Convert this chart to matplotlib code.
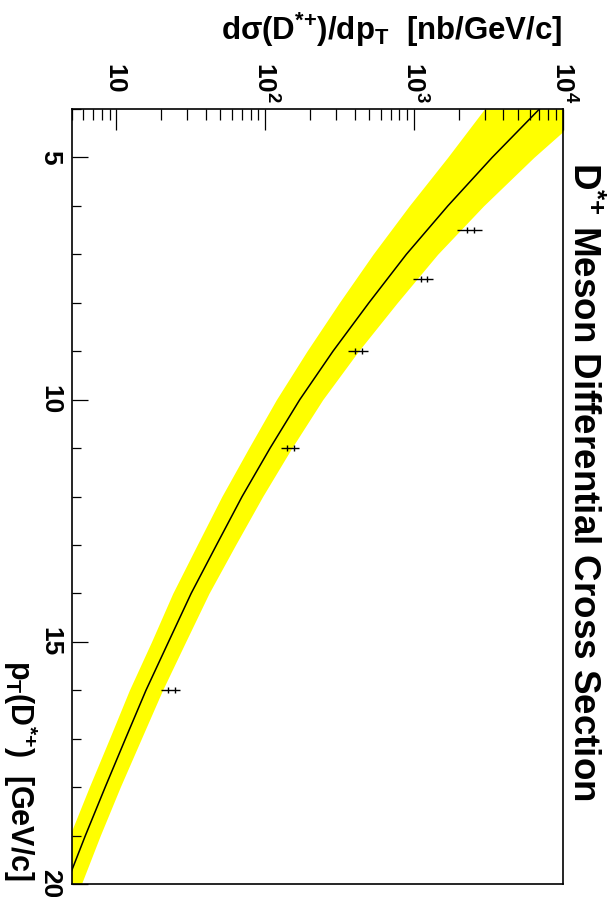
import matplotlib
matplotlib.use("Agg")
import matplotlib.pyplot as plt
from matplotlib.ticker import FixedLocator, LogLocator, MultipleLocator, NullFormatter
import numpy as np

plt.rcParams['font.family'] = ['Liberation Sans', 'DejaVu Sans']
plt.rcParams['font.weight'] = 'bold'
plt.rcParams['mathtext.fontset'] = 'custom'
plt.rcParams['mathtext.rm'] = 'Liberation Sans:bold'
plt.rcParams['mathtext.it'] = 'Liberation Sans:bold'
plt.rcParams['mathtext.bf'] = 'Liberation Sans:bold'
plt.rcParams['mathtext.sf'] = 'Liberation Sans:bold'
plt.rcParams['mathtext.default'] = 'rm'

# Theory band (pT in GeV/c, cross section in nb/GeV/c)
pt_theory = [4, 5, 6, 7, 8, 9, 10, 11, 12, 13, 14, 15, 16, 17, 18, 19, 20]
theory_central = [7000, 3365, 1694, 891, 499, 286, 171, 108, 70.0, 47.1, 31.8,
                  22.4, 15.8, 11.5, 8.4, 6.18, 4.61]
theory_low = [2985, 1687, 931, 531, 315, 191, 119, 77.6, 51.1, 34.9, 23.9,
              17.2, 12.2, 8.97, 6.56, 4.85, 3.63]
theory_high = [14960, 6412, 2944, 1445, 773, 424, 244, 151, 96.2, 63.2, 41.9,
               29.2, 20.4, 14.7, 10.6, 7.78, 5.81]

# Measured points
pt_data = [6.5, 7.5, 9.0, 11.0, 16.0]
xsec_data = [2410, 1170, 426, 149, 23.4]
rel_err_total = [0.19, 0.15, 0.15, 0.14, 0.15]
rel_err_stat = [0.05, 0.05, 0.05, 0.055, 0.05]

x_major = [10, 100, 1000, 10000]
x_major_labels = [r'$\mathbf{10}$', r'$\mathbf{10^{2}}$', r'$\mathbf{10^{3}}$', r'$\mathbf{10^{4}}$']
y_major = [5, 10, 15, 20]
y_major_labels = ['5', '10', '15', '20']

W, H = 611, 897
fig = plt.figure(figsize=(W / 100, H / 100), dpi=100)
L, R, T, B = 71.7, 562.5, 109, 884
ax = fig.add_axes([L / W, 1 - B / H, (R - L) / W, (B - T) / H])

ax.set_xscale('log')
ax.set_xlim(5, 1e4)
ax.set_ylim(20, 4)

ax.fill_betweenx(pt_theory, theory_low, theory_high, color='#ffff00', lw=0, zorder=1)
ax.plot(theory_central, pt_theory, color='black', lw=1.1, zorder=2)

xd = np.array(xsec_data)
ax.errorbar(xd, pt_data, xerr=xd * np.array(rel_err_total), fmt='none',
            ecolor='black', elinewidth=1.0, capsize=0, zorder=3)
ax.errorbar(xd, pt_data, xerr=xd * np.array(rel_err_stat), fmt='none',
            ecolor='black', elinewidth=0, capsize=2.2, capthick=1.0, zorder=3)

# Axes styling
for s in ax.spines.values():
    s.set_linewidth(1.2)
    s.set_color('black')

ax.xaxis.set_major_locator(FixedLocator(x_major))
ax.xaxis.set_minor_locator(LogLocator(base=10, subs=np.arange(2, 10)))
ax.xaxis.set_minor_formatter(NullFormatter())
ax.set_xticklabels(x_major_labels)
ax.xaxis.tick_top()
ax.tick_params(axis='x', which='major', direction='in', length=15, width=0.9,
               top=True, bottom=False, labeltop=True, labelbottom=False,
               labelsize=19, pad=34, labelrotation=-90)
ax.tick_params(axis='x', which='minor', direction='in', length=8, width=0.9,
               top=True, bottom=False)
for t in ax.xaxis.get_majorticklabels():
    t.set_va('top')
    t.set_ha('center')

ax.yaxis.set_major_locator(FixedLocator(y_major))
ax.yaxis.set_minor_locator(MultipleLocator(1))
ax.set_yticklabels(y_major_labels)
ax.tick_params(axis='y', which='major', direction='in', length=11.5, width=0.9,
               left=True, right=False, labelsize=19, pad=7, labelrotation=-90)
ax.tick_params(axis='y', which='minor', direction='in', length=6.5, width=0.9,
               left=True, right=False)
for t in ax.yaxis.get_majorticklabels():
    t.set_va('center')
    t.set_ha('right')

# Titles (the whole canvas is rotated by 90 degrees)
fig.text(R / W, 1 - 30 / H, r'd$\sigma$(D$^{{*}{+}}$)/dp$_{T}$  [nb/GeV/c]',
         ha='right', va='center', fontsize=22.5, fontweight='bold')
fig.text(583 / W, 1 - 162 / H, r'D$^{{*}{+}}$ Meson Differential Cross Section',
         ha='center', va='top', rotation=-90, fontsize=26.5, fontweight='bold')
fig.text(20 / W, 1 - 881 / H, r'p$_{T}$(D$^{{*}{+}}$)  [GeV/c]',
         ha='center', va='bottom', rotation=-90, fontsize=22, fontweight='bold')

fig.savefig('out.png', dpi=100)
